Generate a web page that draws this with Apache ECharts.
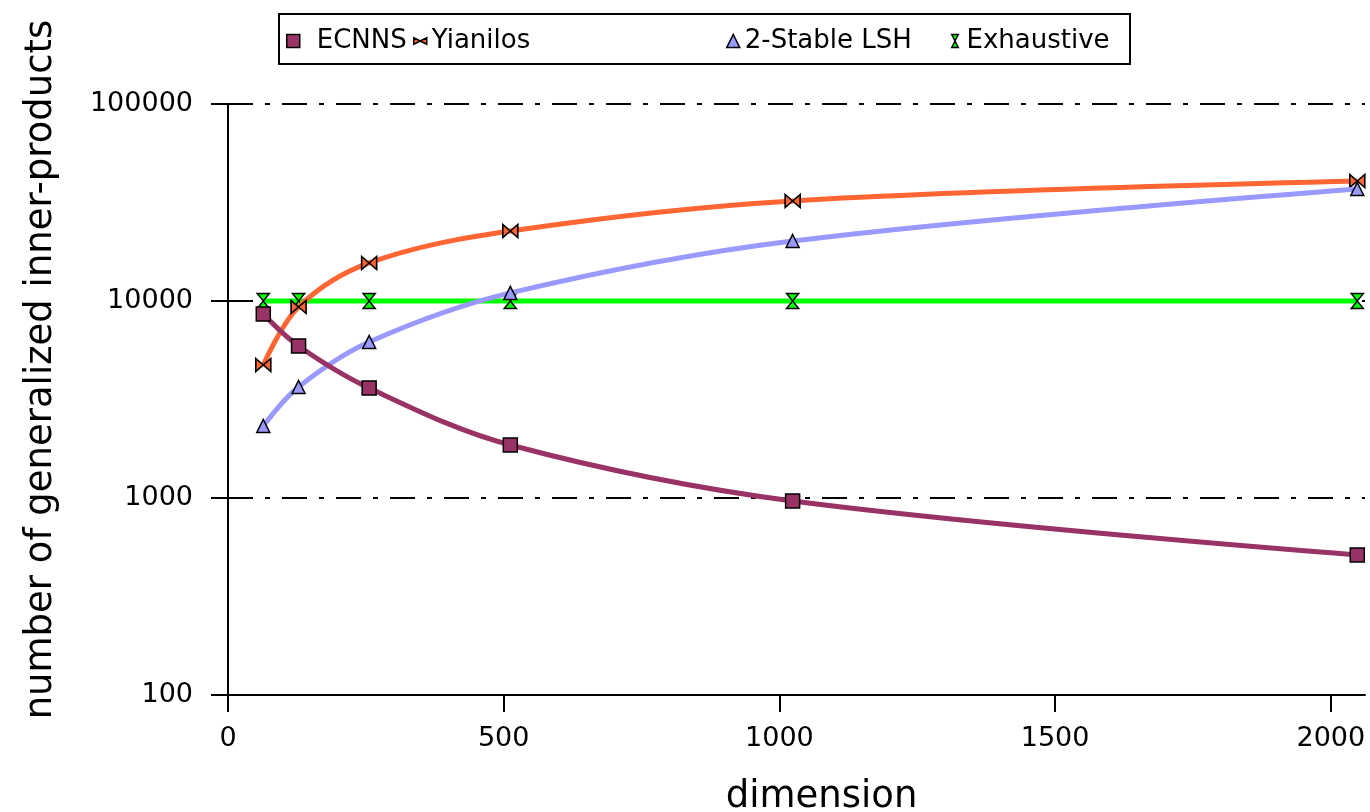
<!DOCTYPE html>
<html>
<head>
<meta charset="utf-8">
<script src="https://cdn.jsdelivr.net/npm/echarts@6/dist/echarts.min.js"></script>
<style>
  html, body { margin: 0; padding: 0; background: #ffffff; }
  #chart { width: 1370px; height: 812px; }
</style>
</head>
<body>
<div id="chart"></div>
<script>
// Inner-product counts vs. dimension, log y axis.
const dims = [64, 128, 256, 512, 1024, 2048];
const ecnns = [8590, 5910, 3615, 1858, 966, 514];
const yianilos = [4730, 9330, 15600, 22650, 32200, 40650];
const lsh = [2320, 3660, 6190, 10990, 20170, 37040];
const exhaustive = [10000, 10000, 10000, 10000, 10000, 10000];
const xTicks = [0, 500, 1000, 1500, 2000];

const FONT = '"DejaVu Sans", "Liberation Sans", sans-serif';
const BOWTIE = 'path://M0,0 L10,5 L20,0 L20,10 L10,5 L0,10 Z';
const HOURGLASS = 'path://M0,0 L10,0 L5,10 L10,20 L0,20 L5,10 Z';

const pairs = (ys) => dims.map((d, i) => [d, ys[i]]);

function lineSeries(name, ys, color, symbol, size, z) {
    return {
        name: name,
        type: 'line',
        data: pairs(ys),
        smooth: 0.35,
        symbol: symbol,
        symbolSize: size,
        showSymbol: true,
        z: z,
        lineStyle: { color: color, width: 5 },
        itemStyle: { color: color, borderColor: '#000000', borderWidth: 1.5 },
        emphasis: { disabled: true }
    };
}

function legendAt(name, icon, left, pad) {
    return {
        data: [{ name: name, icon: icon }],
        left: left,
        top: 23,
        itemWidth: 13,
        itemHeight: 13,
        itemStyle: { borderColor: '#000000', borderWidth: 1.5 },
        textStyle: { fontFamily: FONT, fontSize: 26, color: '#000000', padding: [0, 0, 0, pad] },
        selectedMode: false
    };
}

const chart = echarts.init(document.getElementById('chart'));
chart.setOption({
    animation: false,
    backgroundColor: '#ffffff',
    grid: { left: 228, right: 5, top: 104, bottom: 117, outerBoundsMode: 'none', containLabel: false },
    legend: [
        legendAt('ECNNS', 'rect', 281, 12),
        legendAt('Yianilos', BOWTIE, 408, 0),
        legendAt('2-Stable LSH', 'triangle', 721, 0),
        legendAt('Exhaustive', HOURGLASS, 946, 0)
    ],
    graphic: [{
        type: 'rect',
        shape: { x: 279, y: 14, width: 851, height: 50 },
        style: { fill: 'none', stroke: '#000000', lineWidth: 2 },
        z: 0
    }],
    xAxis: {
        type: 'value',
        min: 0,
        max: 2062,
        name: 'dimension',
        nameLocation: 'middle',
        nameGap: 84,
        nameTextStyle: { fontFamily: FONT, fontSize: 37, color: '#000000', padding: [0, 0, 0, 50] },
        axisLine: { show: true, lineStyle: { color: '#000000', width: 2 } },
        axisTick: { show: true, length: 17, customValues: xTicks, lineStyle: { color: '#000000', width: 2 } },
        axisLabel: {
            customValues: xTicks, fontFamily: FONT, fontSize: 27, color: '#000000', margin: 30,
            formatter: (v) => String(v)
        },
        splitLine: { show: false }
    },
    yAxis: {
        type: 'log',
        logBase: 10,
        min: 100,
        max: 100000,
        name: 'number of generalized inner-products',
        nameLocation: 'middle',
        nameGap: 168,
        nameTextStyle: { fontFamily: FONT, fontSize: 37, color: '#000000', padding: [0, 0, 0, 60] },
        axisLine: { show: true, lineStyle: { color: '#000000', width: 2 } },
        axisTick: { show: true, length: 17, lineStyle: { color: '#000000', width: 2 } },
        axisLabel: {
            fontFamily: FONT, fontSize: 27, color: '#000000', margin: 35,
            formatter: (v) => String(Math.round(v))
        },
        splitLine: { show: true, lineStyle: { color: '#000000', width: 2, type: [25, 12, 5, 12] } }
    },
    series: [
        lineSeries('ECNNS', ecnns, '#993366', 'rect', 14, 4),
        lineSeries('Yianilos', yianilos, '#ff6633', BOWTIE, [15, 13], 2),
        lineSeries('2-Stable LSH', lsh, '#9999ff', 'triangle', 13, 3),
        lineSeries('Exhaustive', exhaustive, '#00ff00', HOURGLASS, [12, 15], 1)
    ]
});
</script>
</body>
</html>
